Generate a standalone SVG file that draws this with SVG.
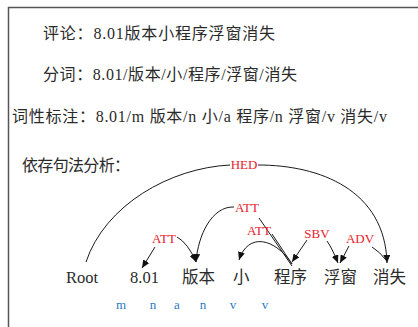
<svg xmlns="http://www.w3.org/2000/svg" width="418" height="327" viewBox="0 0 418 327">
<defs>
<style>
.t{font-family:"Liberation Serif","Noto Sans CJK SC",serif;font-size:16px;fill:#2a2a2a}
.w{font-family:"Liberation Serif","Noto Sans CJK SC",serif;font-size:16.5px;fill:#2a2a2a}
.lab{font-family:"Liberation Serif",serif;font-size:13px;fill:#e8212b;text-anchor:middle}
.pos{font-family:"Liberation Serif",serif;font-size:13px;fill:#2b7bbd;text-anchor:middle}
.e{fill:none;stroke:#1a1a1a;stroke-width:1}
.frame{stroke:#555;stroke-width:1.5;fill:none}
</style>
<marker id="ah" viewBox="0 0 8 7" refX="8" refY="3.5" markerWidth="8" markerHeight="7" markerUnits="userSpaceOnUse" orient="auto">
<path d="M0,0 L8,3.5 L0,7 z" fill="#111"/>
</marker>
</defs>
<rect width="418" height="327" fill="#fff"/>
<path class="frame" d="M8.5,327 L8.5,7.5 L418,7.5"/>

<text class="t" x="43" y="39" textLength="232" lengthAdjust="spacing">评论：8.01版本小程序浮窗消失</text>
<text class="t" x="43" y="80" textLength="254" lengthAdjust="spacing">分词：8.01/版本/小/程序/浮窗/消失</text>
<text class="t" x="12" y="122" textLength="375" lengthAdjust="spacing">词性标注：8.01/m 版本/n 小/a 程序/n 浮窗/v 消失/v</text>
<text class="t" x="22" y="171" textLength="108" lengthAdjust="spacing">依存句法分析：</text>

<g id="edges">
<path class="e" d="M86,262 C105,205 170,168 230,165"/>
<path class="e" marker-end="url(#ah)" d="M258,165 C320,165 385,190 387,263"/>
<path class="e" marker-end="url(#ah)" d="M234,207 C212,206 198,235 196,262"/>
<path class="e" d="M259,218 L292,266"/>
<path class="e" marker-end="url(#ah)" d="M292,264 C275,238 248,232 239,260"/>
<path class="e" d="M272,234 L292,264"/>
<path class="e" marker-end="url(#ah)" d="M307,240 L292,262"/>
<path class="e" marker-end="url(#ah)" d="M327,241 Q332,248 338,263"/>
<path class="e" marker-end="url(#ah)" d="M349,246 L340,263"/>
<path class="e" d="M372,247 Q380,252 386,260"/>
<path class="e" marker-end="url(#ah)" d="M155,247 L142,268"/>
<path class="e" marker-end="url(#ah)" d="M177,237 Q188,243 196,262"/>
</g>

<g id="labels">
<text class="lab" x="244" y="169">HED</text>
<text class="lab" x="247" y="212">ATT</text>
<text class="lab" x="259" y="235">ATT</text>
<text class="lab" x="164" y="243">ATT</text>
<text class="lab" x="317" y="238">SBV</text>
<text class="lab" x="360" y="243">ADV</text>
</g>

<g id="n-root"><text class="w" x="66" y="283">Root</text></g>
<g id="n-801"><text class="w" x="130" y="283">8.01</text><text class="pos" x="121" y="309">m</text></g>
<g id="n-banben"><text class="w" x="182" y="283">版本</text><text class="pos" x="153" y="309">n</text></g>
<g id="n-xiao"><text class="w" x="233" y="283">小</text><text class="pos" x="177" y="309">a</text></g>
<g id="n-chengxu"><text class="w" x="274" y="283">程序</text><text class="pos" x="203" y="309">n</text></g>
<g id="n-fuchuang"><text class="w" x="324" y="283">浮窗</text><text class="pos" x="233" y="309">v</text></g>
<g id="n-xiaoshi"><text class="w" x="373" y="283">消失</text><text class="pos" x="265" y="309">v</text></g>
</svg>
